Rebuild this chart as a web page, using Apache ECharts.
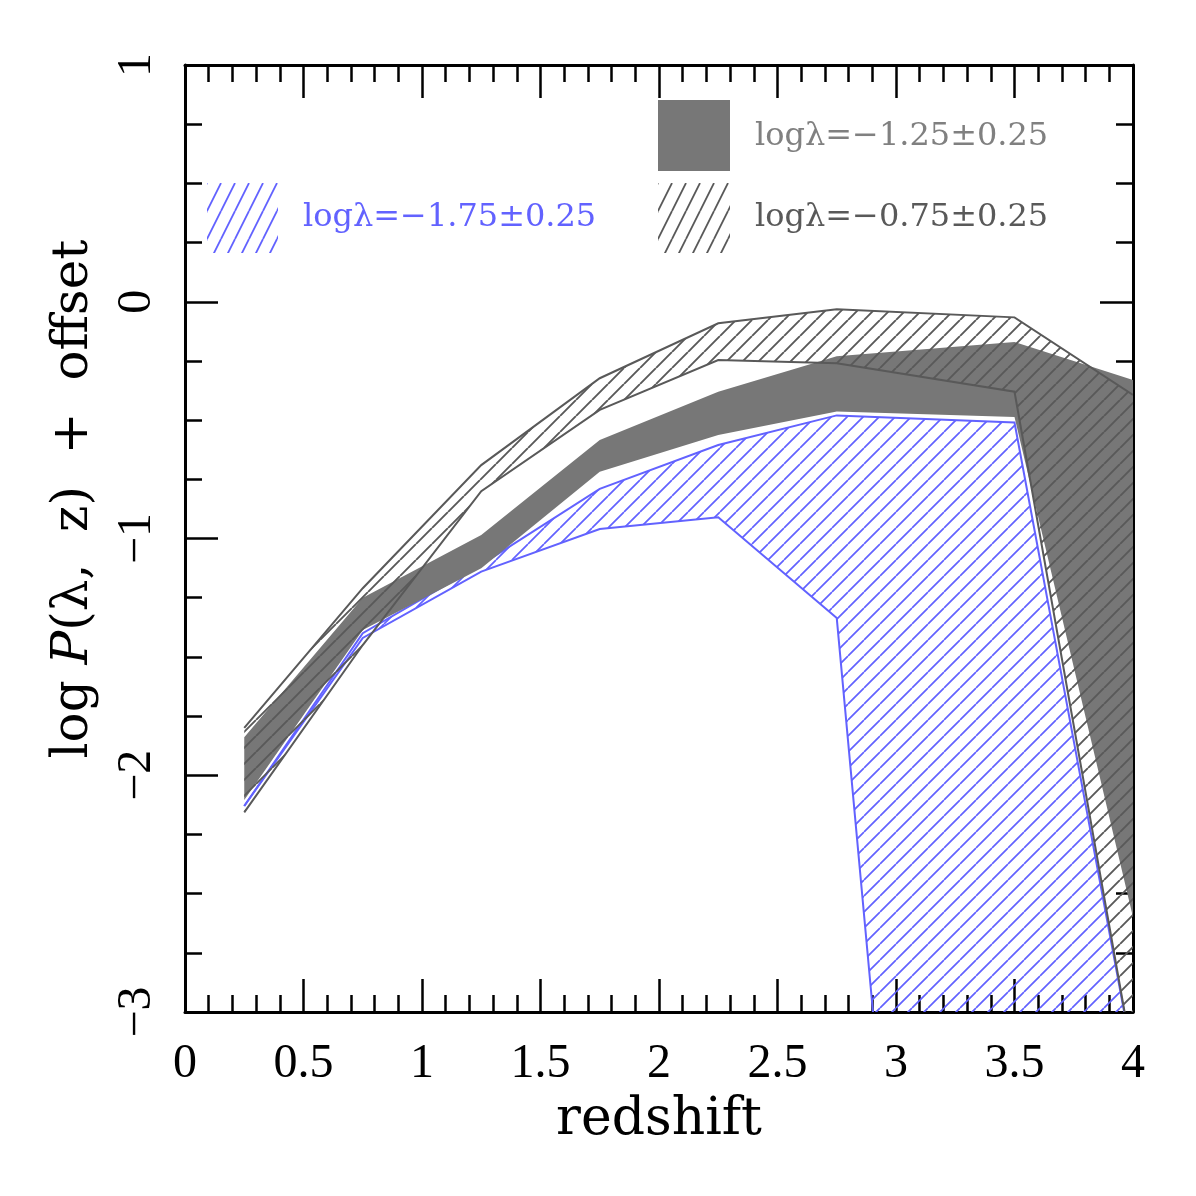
<!DOCTYPE html>
<html>
<head>
<meta charset="utf-8">
<script src="https://cdn.jsdelivr.net/npm/echarts@6/dist/echarts.min.js"></script>
<style>
  html, body { margin: 0; padding: 0; background: #fff; }
  #chart { width: 1196px; height: 1196px; }
</style>
</head>
<body>
<div id="chart"></div>
<script>
// Centres des intervalles en redshift
const redshift = [ 0.25, 0.75, 1.25, 1.75, 2.25, 2.75, 3.5, 4.0 ];

// logλ = -1.75 ± 0.25 (bande hachurée bleue)
const blueUpper = [ -2.13, -1.40, -1.11, -0.79, -0.605, -0.48, -0.51, -3.20 ];
const blueLower = [ -2.13, -1.42, -1.14, -0.96, -0.91, -1.336, -9.5, -9.5 ];

// logλ = -1.25 ± 0.25 (bande grise pleine)
const solidUpper = [ -1.84, -1.25, -0.985, -0.584, -0.38, -0.23, -0.17, -0.33 ];
const solidLower = [ -2.105, -1.386, -1.126, -0.718, -0.563, -0.464, -0.487, -2.60 ];

// logλ = -0.75 ± 0.25 (bande hachurée grise)
const hatchUpper = [ -1.80, -1.21, -0.69, -0.323, -0.091, -0.032, -0.066, -0.394 ];
const hatchLower = [ -2.157, -1.45, -0.80, -0.457, -0.246, -0.26, -0.38, -3.20 ];

const legendLabels = [ 'logλ=−1.25±0.25', 'logλ=−0.75±0.25', 'logλ=−1.75±0.25' ];

const BLUE = '#6262ff';
const DARK = '#595959';
const SOLID = '#777777';
const FONT = '"Liberation Serif", "DejaVu Serif", serif';
const WIDE = '"DejaVu Serif", serif';

// Motif de hachures "/" dessiné sur un petit canvas
function makeHatch ( color, w, h, lineWidth ) {
  const c = document.createElement( 'canvas' );
  c.width = w;
  c.height = h;
  const ctx = c.getContext( '2d' );
  ctx.strokeStyle = color;
  ctx.lineWidth = lineWidth;
  ctx.beginPath();
  for ( let k = -1; k <= 1; k++ ) {
    ctx.moveTo( k * w, h );
    ctx.lineTo( ( k + 1 ) * w, 0 );
  }
  ctx.stroke();
  return { image: c, repeat: 'repeat' };
}

const blueHatch = makeHatch( BLUE, 16, 16, 1.7 );
const greyHatch = makeHatch( DARK, 16, 16, 1.9 );
const blueLegendHatch = makeHatch( BLUE, 14, 28, 1.8 );
const greyLegendHatch = makeHatch( DARK, 14, 28, 1.8 );

function bandSeries ( name, upper, lower, fill, stroke, z ) {
  return {
    type: 'custom',
    name: name,
    coordinateSystem: 'cartesian2d',
    clip: true,
    z: z,
    silent: true,
    data: redshift.map( ( x, i ) => [ x, upper[ i ], lower[ i ] ] ),
    renderItem: ( params, api ) => {
      if ( params.dataIndex !== 0 ) return null;
      const n = params.dataInsideLength;
      const top = [];
      const bottom = [];
      for ( let i = 0; i < n; i++ ) {
        const x = api.value( 0, i );
        top.push( api.coord( [ x, api.value( 1, i ) ] ) );
        bottom.push( api.coord( [ x, api.value( 2, i ) ] ) );
      }
      const children = [ {
        type: 'polygon',
        shape: { points: top.concat( bottom.slice().reverse() ) },
        style: { fill: fill, stroke: null }
      } ];
      if ( stroke ) {
        children.push( { type: 'polyline', shape: { points: top }, style: { fill: null, stroke: stroke, lineWidth: 2 } } );
        children.push( { type: 'polyline', shape: { points: bottom }, style: { fill: null, stroke: stroke, lineWidth: 2 } } );
      }
      return { type: 'group', children: children };
    }
  };
}

const minus = ( v ) => String( v ).replace( '-', '−' );

const tickStyle = { color: '#000', width: 2.5 };
function makeAxis ( extra ) {
  return Object.assign( {
    type: 'value',
    axisLine: { show: true, onZero: false, lineStyle: { color: '#000', width: 3 } },
    axisTick: { show: true, inside: true, length: 33, lineStyle: tickStyle },
    minorTick: { show: true, length: 17, lineStyle: tickStyle },
    splitLine: { show: false },
    minorSplitLine: { show: false }
  }, extra );
}

const chart = echarts.init( document.getElementById( 'chart' ) );

chart.setOption( {
  animation: false,
  backgroundColor: '#fff',
  grid: { left: 185, top: 65, width: 948, height: 947 },
  xAxis: [
    makeAxis( {
      position: 'bottom', min: 0, max: 4, interval: 0.5,
      minorTick: { show: true, splitNumber: 5, length: 17, lineStyle: tickStyle },
      axisLabel: { margin: 28, color: '#000', fontSize: 48, fontFamily: FONT, formatter: minus },
      name: 'redshift', nameLocation: 'middle', nameGap: 82,
      nameTextStyle: { color: '#000', fontSize: 52, fontFamily: WIDE }
    } ),
    makeAxis( {
      position: 'top', min: 0, max: 4, interval: 0.5,
      minorTick: { show: true, splitNumber: 5, length: 17, lineStyle: tickStyle },
      axisLabel: { show: false }
    } )
  ],
  yAxis: [
    makeAxis( {
      position: 'left', min: -3, max: 1, interval: 1,
      minorTick: { show: true, splitNumber: 4, length: 17, lineStyle: tickStyle },
      axisLabel: { margin: 24, rotate: 90, color: '#000', fontSize: 48, fontFamily: FONT, formatter: minus }
    } ),
    makeAxis( {
      position: 'right', min: -3, max: 1, interval: 1,
      minorTick: { show: true, splitNumber: 4, length: 17, lineStyle: tickStyle },
      axisLabel: { show: false }
    } )
  ],
  series: [
    bandSeries( legendLabels[ 2 ], blueUpper, blueLower, blueHatch, BLUE, 2 ),
    bandSeries( legendLabels[ 0 ], solidUpper, solidLower, SOLID, null, 3 ),
    bandSeries( legendLabels[ 1 ], hatchUpper, hatchLower, greyHatch, DARK, 4 )
  ],
  graphic: [
    // Titre de l'axe vertical, un peu au-dessus du centre comme sur l'original
    {
      type: 'text', x: 74, y: 499, rotation: Math.PI / 2,
      style: {
        text: '{n|log }{i|P}{n|(λ,  z)  +  offset}',
        align: 'center', verticalAlign: 'middle',
        rich: {
          n: { fill: '#000', fontSize: 50, fontFamily: WIDE },
          i: { fill: '#000', fontSize: 50, fontFamily: WIDE, fontStyle: 'italic' }
        }
      }
    },
    { type: 'rect', left: 658, top: 100, shape: { width: 72, height: 71 }, style: { fill: SOLID } },
    { type: 'rect', left: 658, top: 183, shape: { width: 72, height: 70 }, style: { fill: greyLegendHatch } },
    { type: 'rect', left: 207, top: 183, shape: { width: 71, height: 70 }, style: { fill: blueLegendHatch } },
    { type: 'text', left: 755, top: 121, style: { text: legendLabels[ 0 ], fill: '#808080', font: '32px ' + WIDE } },
    { type: 'text', left: 755, top: 202, style: { text: legendLabels[ 1 ], fill: DARK, font: '32px ' + WIDE } },
    { type: 'text', left: 303, top: 202, style: { text: legendLabels[ 2 ], fill: BLUE, font: '32px ' + WIDE } }
  ]
} );
</script>
</body>
</html>
